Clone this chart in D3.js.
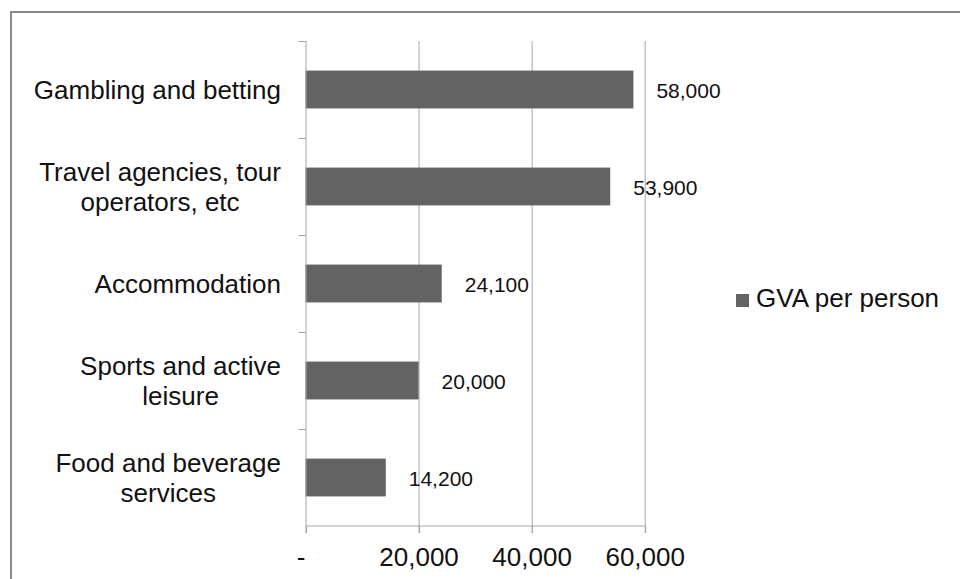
<!DOCTYPE html>
<html>
<head>
<meta charset="utf-8">
<script src="https://cdn.jsdelivr.net/npm/d3@7"></script>
<style>
    body { margin: 0; background: #fff; }
    svg text { font-family: "Liberation Sans", Arial, sans-serif; }
</style>
</head>
<body>
<div id="chart"></div>
<script>
const categories = [
    ["Gambling and betting"],
    ["Travel agencies, tour", "operators, etc"],
    ["Accommodation"],
    ["Sports and active", "leisure"],
    ["Food and beverage", "services"]
];
const values = [58000, 53900, 24100, 20000, 14200];
const tickValues = [0, 20000, 40000, 60000];
const seriesName = "GVA per person";

const margin = { top: 41, right: 315, bottom: 53, left: 305.5 };
const width = 960 - margin.left - margin.right;
const height = 579 - margin.top - margin.bottom;

const root = d3.select("#chart")
    .append("svg")
    .attr("width", 960)
    .attr("height", 579);

// outer frame
root.append("rect")
    .attr("x", 11)
    .attr("y", 12)
    .attr("width", 980)
    .attr("height", 620)
    .attr("fill", "none")
    .attr("stroke", "#8a8a8a")
    .attr("stroke-width", 2);

const svg = root.append("g")
    .attr("transform", `translate(${margin.left},${margin.top})`);

const data = categories.map((c, i) => ({ label: c, key: c.join(" "), value: values[i] }));

const xAxis = d3.scaleLinear()
    .domain([0, 60000])
    .range([0, 339.2]);

const yAxis = d3.scaleBand()
    .domain(data.map(d => d.key))
    .range([0, height])
    .paddingInner(0.61)
    .paddingOuter(0.305);

// gridlines
svg.append("g")
    .selectAll("line")
    .data(tickValues.slice(1))
    .enter()
    .append("line")
    .attr("x1", d => xAxis(d) + 0.5)
    .attr("x2", d => xAxis(d) + 0.5)
    .attr("y1", 0)
    .attr("y2", height + 7)
    .attr("stroke", "#a6a6a6")
    .attr("stroke-width", 1);

// bars
svg.selectAll("rect.bar")
    .data(data)
    .enter()
    .append("rect")
    .attr("class", "bar")
    .attr("x", 0)
    .attr("y", d => yAxis(d.key))
    .attr("width", d => xAxis(d.value))
    .attr("height", yAxis.bandwidth())
    .attr("fill", "#636363");

// value labels
svg.selectAll("text.val")
    .data(data)
    .enter()
    .append("text")
    .attr("class", "val")
    .attr("x", d => xAxis(d.value) + 23)
    .attr("y", d => yAxis(d.key) + yAxis.bandwidth() / 2 + 8)
    .attr("font-size", 21)
    .attr("fill", "#111")
    .text(d => d3.format(",")(d.value));

// x axis
const xg = svg.append("g")
    .attr("transform", `translate(0,${height})`)
    .call(d3.axisBottom(xAxis)
        .tickValues(tickValues)
        .tickSize(7)
        .tickPadding(15)
        .tickFormat(d => d === 0 ? "-" : d3.format(",")(d)));
xg.select(".domain").attr("stroke", "#a6a6a6").attr("d", `M0.5,0H${xAxis(60000) + 0.5}`);
xg.selectAll(".tick line").attr("stroke", "#a6a6a6").attr("x1", 0.5).attr("x2", 0.5);
xg.selectAll(".tick text")
    .attr("font-size", 26)
    .attr("fill", "#111")
    .attr("dx", d => d === 0 ? -5 : 0);

// y axis (ticks at category boundaries)
const step = yAxis.step();
svg.append("line")
    .attr("x1", 0.5).attr("x2", 0.5)
    .attr("y1", 0).attr("y2", height + 7)
    .attr("stroke", "#a6a6a6");
svg.append("g")
    .selectAll("line")
    .data(d3.range(data.length))
    .enter()
    .append("line")
    .attr("x1", -7).attr("x2", 0.5)
    .attr("y1", i => Math.round(i * step) + 0.5)
    .attr("y2", i => Math.round(i * step) + 0.5)
    .attr("stroke", "#a6a6a6");

// category labels
const lineH = 30;
const cats = svg.selectAll("text.cat")
    .data(data)
    .enter()
    .append("text")
    .attr("class", "cat")
    .attr("font-size", 26)
    .attr("fill", "#111")
    .attr("text-anchor", "middle")
    .attr("y", d => yAxis(d.key) + yAxis.bandwidth() / 2 + 9.5 - (d.label.length - 1) * lineH / 2);

cats.each(function (d) {
    const t = d3.select(this);
    // width of the longest line, so the block ends at the same right edge
    const probe = t.append("tspan").text(d.label[0]);
    const w = probe.node().getComputedTextLength();
    probe.remove();
    const cx = -24.5 - w / 2;
    d.label.forEach((line, i) => {
        t.append("tspan")
            .attr("x", cx)
            .attr("dy", i === 0 ? 0 : lineH)
            .text(line);
    });
});

// legend
const legend = root.append("g").attr("transform", "translate(736,294)");
legend.append("rect")
    .attr("width", 13)
    .attr("height", 13)
    .attr("fill", "#636363");
legend.append("text")
    .attr("x", 20)
    .attr("y", 13)
    .attr("font-size", 26)
    .attr("fill", "#111")
    .text(seriesName);
</script>
</body>
</html>
